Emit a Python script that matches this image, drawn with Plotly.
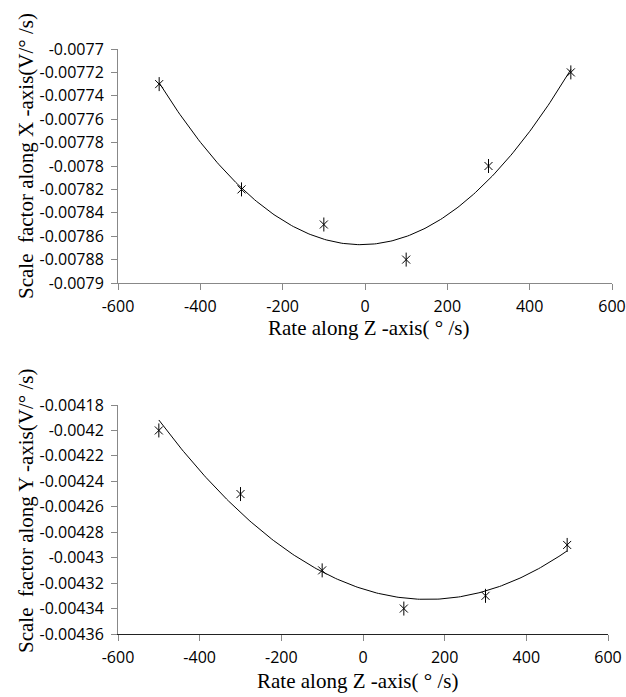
import numpy as np
import plotly.graph_objects as go

rate = [-500, -300, -100, 100, 300, 500]
sf_x = [-0.00773, -0.00782, -0.00785, -0.00788, -0.00780, -0.00772]
sf_y = [-0.00420, -0.00425, -0.00431, -0.00434, -0.00433, -0.00429]

x_ticks = [-600, -400, -200, 0, 200, 400, 600]
x_ticktext = ["-600", "-400", "-200", "0", "200", "400", "600"]
top_ticks = [-0.0077, -0.00772, -0.00774, -0.00776, -0.00778, -0.0078,
             -0.00782, -0.00784, -0.00786, -0.00788, -0.0079]
bot_ticks = [-0.00418, -0.0042, -0.00422, -0.00424, -0.00426, -0.00428,
             -0.0043, -0.00432, -0.00434, -0.00436]

W, H = 626, 697
L, R = 118, 14
pw = W - L - R

def ydom(top, bottom):
    return [1 - bottom / H, 1 - top / H]

fig = go.Figure()

def add_series(xs, ys, xa, ya):
    c = np.polyfit(xs, ys, 2)
    xf = np.linspace(min(xs), max(xs), 200)
    fig.add_trace(go.Scatter(x=xf, y=np.polyval(c, xf), mode="lines",
                             line=dict(color="black", width=1),
                             xaxis=xa, yaxis=ya, showlegend=False, hoverinfo="skip"))
    fig.add_trace(go.Scatter(x=xs, y=ys, mode="markers",
                             marker=dict(symbol="x-thin-open", size=8, color="black",
                                         line=dict(width=1, color="black")),
                             xaxis=xa, yaxis=ya, showlegend=False))
    fig.add_trace(go.Scatter(x=xs, y=ys, mode="markers",
                             marker=dict(symbol="line-ns-open", size=10, color="black",
                                         line=dict(width=1, color="black")),
                             xaxis=xa, yaxis=ya, showlegend=False))

add_series(rate, sf_x, "x", "y")
add_series(rate, sf_y, "x2", "y2")

tickfont = dict(family="Open Sans", size=16, color="black")
axcommon = dict(showgrid=False, zeroline=False, showline=True, linecolor="#888888",
                linewidth=1, ticks="outside", ticklen=6, tickcolor="#888888",
                tickfont=tickfont, automargin=False)

fig.update_layout(
    width=W, height=H,
    margin=dict(l=L, r=R, t=0, b=0, autoexpand=False),
    paper_bgcolor="white", plot_bgcolor="white",
    xaxis=dict(domain=[0, 1], range=[-600, 600], tickvals=x_ticks, ticktext=x_ticktext,
               anchor="y", ticklabelstandoff=3, **axcommon),
    yaxis=dict(domain=ydom(49, 283), range=[-0.0079, -0.0077], tickvals=top_ticks,
               ticktext=[f"{v:g}" for v in top_ticks], anchor="x",
               ticklabelstandoff=4, **axcommon),
    xaxis2=dict(domain=[0, 490 / pw], range=[-600, 600], tickvals=x_ticks,
                ticktext=x_ticktext, anchor="y2",
                ticklabelstandoff=3, **{**axcommon, "linecolor": "#222222"}),
    yaxis2=dict(domain=ydom(405, 634), range=[-0.00436, -0.00418], tickvals=bot_ticks,
                ticktext=[f"{v:g}" for v in bot_ticks], anchor="x2",
                ticklabelstandoff=4, **axcommon),
)

titlefont = dict(family="Liberation Serif", size=21, color="black")

def ann(text, x, y, angle=0):
    fig.add_annotation(text=text, xref="paper", yref="paper",
                       x=(x - L) / pw, y=1 - y / H, showarrow=False,
                       textangle=angle, font=titlefont,
                       xanchor="center", yanchor="middle")

ann("Rate along Z -axis( ° /s)", 368, 328)
ann("Rate along Z -axis( ° /s)", 357, 681)
ann("Scale  factor along X -axis(V/° /s)", 26, 156, -90)
ann("Scale  factor along Y -axis(V/° /s)", 26, 511, -90)

fig.write_html("out.html", config={"displayModeBar": False},
               post_script="document.body.style.margin='0';document.body.style.padding='0';document.body.style.overflow='hidden';")
